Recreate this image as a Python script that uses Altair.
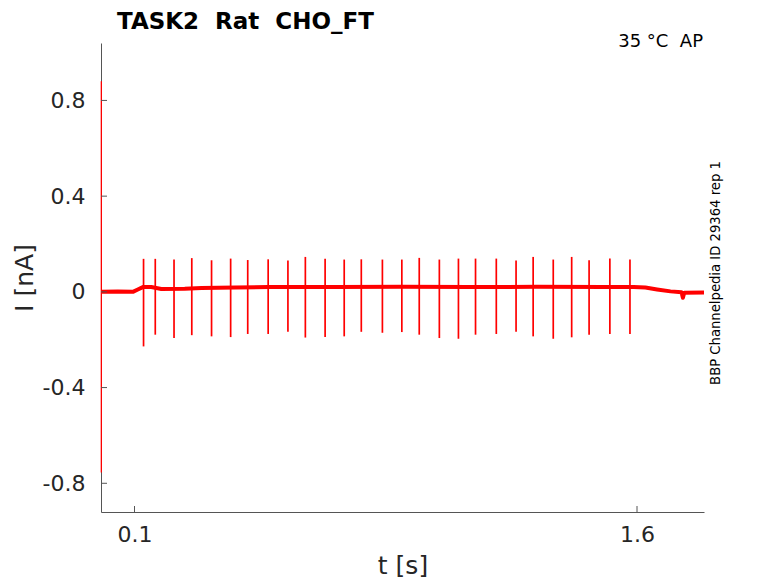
import altair as alt
import pandas as pd

# ---- data ----
spike_t = [0.127, 0.162, 0.218, 0.271, 0.330, 0.387, 0.438, 0.499, 0.558, 0.610,
           0.669, 0.726, 0.777, 0.840, 0.898, 0.950, 1.010, 1.067, 1.118, 1.180,
           1.239, 1.290, 1.350, 1.405, 1.457, 1.519, 1.579]
spike_up = [0.138, 0.138, 0.135, 0.141, 0.132, 0.139, 0.133, 0.136, 0.131, 0.146,
            0.138, 0.135, 0.136, 0.135, 0.135, 0.142, 0.135, 0.139, 0.139, 0.139,
            0.131, 0.146, 0.135, 0.146, 0.132, 0.139, 0.135]
spike_down = [-0.228, -0.179, -0.193, -0.181, -0.186, -0.189, -0.176, -0.176, -0.167, -0.191,
              -0.189, -0.186, -0.167, -0.171, -0.168, -0.179, -0.193, -0.196, -0.179, -0.176,
              -0.167, -0.186, -0.196, -0.190, -0.179, -0.176, -0.176]

base_t = [0.003, 0.05, 0.095, 0.11, 0.125, 0.15, 0.18, 0.25, 0.30, 0.40, 0.50, 0.70,
          0.90, 1.10, 1.30, 1.50, 1.59, 1.625, 1.66, 1.70, 1.733, 1.737, 1.741, 1.80]
base_v = [0.000, 0.002, 0.000, 0.010, 0.020, 0.020, 0.012, 0.013, 0.016, 0.018, 0.020, 0.020,
          0.021, 0.020, 0.021, 0.020, 0.020, 0.018, 0.010, 0.002, -0.002, -0.025, -0.004, -0.003]

transient_t = [0.001]
transient_up = [0.88]
transient_down = [-0.755]

x_ticks = [0.1, 1.6]
y_ticks = [-0.8, -0.4, 0, 0.4, 0.8]

W, H = 603, 469
RED = "#ff0000"
TXT = "#262626"
AX = "#555555"

base_df = pd.DataFrame({"t": base_t, "v": base_v})
spike_df = pd.DataFrame({"t": spike_t, "up": spike_up, "down": spike_down})
trans_df = pd.DataFrame({"t": transient_t, "up": transient_up, "down": transient_down})

xscale = alt.Scale(domain=[0, 1.8], nice=False, zero=False)
yscale = alt.Scale(domain=[-0.92, 1.04], nice=False, zero=False)

xaxis = alt.Axis(values=x_ticks, title="t [s]", labelExpr="toString(datum.value)",
                 labelFontSize=22, labelPadding=12, titleFontSize=25, titlePadding=8,
                 labelFlush=False)
yaxis = alt.Axis(values=y_ticks, title="I [nA]", labelExpr="toString(datum.value)",
                 labelFontSize=22, labelPadding=16, titleFontSize=25, titlePadding=5)

baseline = alt.Chart(base_df).mark_line(color=RED, strokeWidth=4, strokeJoin="round").encode(
    x=alt.X("t:Q", scale=xscale, axis=xaxis),
    y=alt.Y("v:Q", scale=yscale, axis=yaxis),
)

spikes = alt.Chart(spike_df).mark_rule(color=RED, strokeWidth=1.7).encode(
    x=alt.X("t:Q", scale=xscale),
    y=alt.Y("up:Q", scale=yscale),
    y2="down:Q",
)

transient = alt.Chart(trans_df).mark_rule(color=RED, strokeWidth=1.3).encode(
    x=alt.X("t:Q", scale=xscale),
    y=alt.Y("up:Q", scale=yscale),
    y2="down:Q",
)

xt = alt.Chart(pd.DataFrame({"t": x_ticks})).mark_rule(color=AX, strokeWidth=1).encode(
    x=alt.X("t:Q", scale=xscale),
    y=alt.value(H),
    y2=alt.value(H - 6),
)
yt = alt.Chart(pd.DataFrame({"v": y_ticks})).mark_rule(color=AX, strokeWidth=1).encode(
    y=alt.Y("v:Q", scale=yscale),
    x=alt.value(0),
    x2=alt.value(6),
)

one = alt.Data(values=[{}])
title = alt.Chart(one).mark_text(
    text="TASK2\u00a0\u00a0Rat\u00a0\u00a0CHO_FT", fontSize=23, fontWeight="bold",
    color="#000000", align="left", baseline="alphabetic", font="DejaVu Sans"
).encode(x=alt.value(16), y=alt.value(-14))

temp = alt.Chart(one).mark_text(
    text="35 °C\u00a0\u00a0AP", fontSize=18, color="#000000", align="right",
    baseline="alphabetic", font="DejaVu Sans"
).encode(x=alt.value(602), y=alt.value(4))

side = alt.Chart(one).mark_text(
    text="BBP Channelpedia ID 29364 rep 1", fontSize=13.2, color="#000000",
    align="center", baseline="middle", angle=270, font="DejaVu Sans"
).encode(x=alt.value(615), y=alt.value(230))

chart = alt.layer(baseline, spikes, transient, xt, yt, title, temp, side).properties(
    width=W, height=H,
    autosize=alt.AutoSizeParams(type="none"),
    padding={"left": 93, "top": 35, "right": 66, "bottom": 70},
).configure(font="DejaVu Sans").configure_view(stroke=None).configure_axis(
    grid=False, ticks=False, tickSize=0, domainColor=AX, domainWidth=1,
    labelColor=TXT, titleColor=TXT, titleFontWeight="normal", labelFont="DejaVu Sans",
    titleFont="DejaVu Sans",
)

chart.save("out.html", embed_options={"renderer": "svg", "actions": False})
